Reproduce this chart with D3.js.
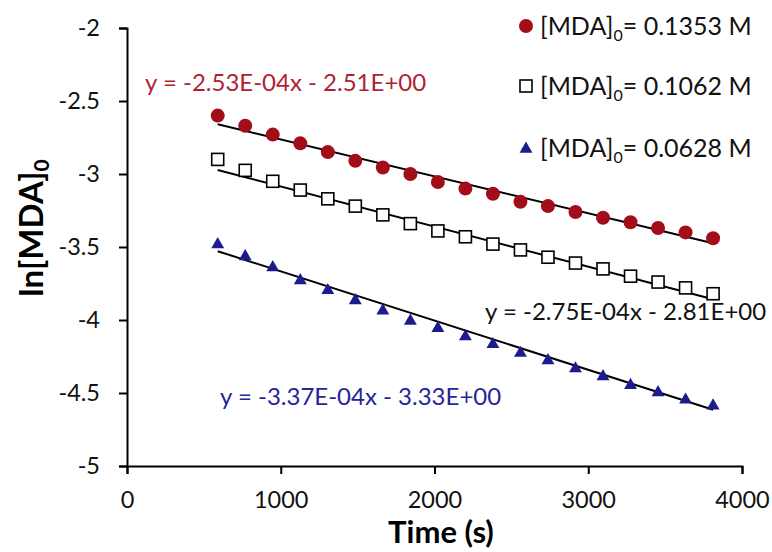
<!DOCTYPE html>
<meta charset="utf-8">
<head>
  <title>ln[MDA] vs time</title>
</head>
<style>
  body {
    margin: 0;
    background: #ffffff;
  }
  text {
    font-family: Lato, "Open Sans", sans-serif;
  }
</style>

<!-- Load d3.js -->
<script src="https://d3js.org/d3.v7.min.js"></script>

<div id="my_dataviz"></div>

<script>
  // data
  var times = [590, 769, 948, 1127, 1306, 1485, 1664, 1843, 2022, 2201, 2380,
    2559, 2738, 2917, 3096, 3275, 3454, 3633, 3812];
  var lnHigh = [-2.60, -2.67, -2.73, -2.79, -2.85, -2.91, -2.955, -3.00, -3.055,
    -3.10, -3.135, -3.19, -3.22, -3.26, -3.30, -3.33, -3.37, -3.40, -3.44];
  var lnMid = [-2.90, -2.975, -3.05, -3.11, -3.17, -3.22, -3.28, -3.34, -3.39,
    -3.43, -3.48, -3.52, -3.57, -3.61, -3.65, -3.70, -3.74, -3.78, -3.82];
  var lnLow = [-3.476, -3.558, -3.633, -3.723, -3.79, -3.86, -3.93, -4.00, -4.05,
    -4.107, -4.16, -4.22, -4.27, -4.326, -4.38, -4.44, -4.49, -4.54, -4.58];
  var concLabels = ["0.1353", "0.1062", "0.0628"];
  var slopes = [-2.53e-4, -2.75e-4, -3.37e-4];
  var intercepts = [-2.51, -2.81, -3.33];
  var fitLabels = ["y = -2.53E-04x - 2.51E+00", "y = -2.75E-04x - 2.81E+00",
    "y = -3.37E-04x - 3.33E+00"];
  var xTicks = [0, 1000, 2000, 3000, 4000];
  var yTicks = [-2, -2.5, -3, -3.5, -4, -4.5, -5];

  var width = 772,
    height = 552;

  var svg = d3.select("#my_dataviz")
    .append("svg")
    .attr("width", width)
    .attr("height", height);

  var x = d3.scaleLinear()
    .domain([0, 4000])
    .range([127, 742]);

  var y = d3.scaleLinear()
    .domain([-5, -2])
    .range([466, 28]);

  // Add X axis
  var xAxis = svg.append("g")
    .attr("transform", "translate(0," + y(-5) + ")")
    .call(d3.axisBottom(x).tickValues(xTicks).tickSize(8).tickPadding(17)
      .tickFormat(function(d) { return String(d); }));

  // Add Y axis
  var yAxis = svg.append("g")
    .attr("transform", "translate(" + x(0) + ",0)")
    .call(d3.axisLeft(y).tickValues(yTicks).tickSize(8).tickPadding(19)
      .tickFormat(function(d) { return String(d); }));

  [xAxis, yAxis].forEach(function(g) {
    g.select(".domain").attr("stroke", "#000").attr("stroke-width", 2);
    g.selectAll(".tick line").attr("stroke", "#000").attr("stroke-width", 2);
    g.selectAll(".tick text")
      .attr("fill", "#111")
      .style("font-size", "23.5px")
      .style("font-family", "Lato, 'Open Sans', sans-serif");
  });

  // text label for the x axis
  svg.append("text")
    .attr("x", 441)
    .attr("y", 543)
    .style("text-anchor", "middle")
    .style("font-size", "31px")
    .style("font-weight", "bold")
    .attr("fill", "#000")
    .text("Time (s)");

  // text label for the y axis
  var yTitle = svg.append("text")
    .attr("transform", "translate(43,228) rotate(-90)")
    .style("text-anchor", "middle")
    .style("font-size", "33px")
    .style("font-weight", "bold")
    .attr("fill", "#000");
  yTitle.append("tspan").text("ln[MDA]");
  yTitle.append("tspan").attr("dy", 6).style("font-size", "21px").text("0");

  var series = [lnHigh, lnMid, lnLow];
  var markFill = ["#a20d1a", "#ffffff", "#1c1c8e"];
  var textFill = ["#b11f33", "#111111", "#26269a"];
  var fitPos = [[145, 91], [485, 320], [220, 405]];

  // trend lines over the data range
  series.forEach(function(s, i) {
    var t0 = times[0],
      t1 = times[times.length - 1];
    svg.append("line")
      .attr("x1", x(t0))
      .attr("y1", y(slopes[i] * t0 + intercepts[i]))
      .attr("x2", x(t1))
      .attr("y2", y(slopes[i] * t1 + intercepts[i]))
      .attr("stroke", "#000")
      .attr("stroke-width", 2);
  });

  var triangle = d3.symbol().type(d3.symbolTriangle).size(72);

  function drawMark(g, i, cx, cy) {
    if (i == 0) {
      g.append("circle")
        .attr("cx", cx)
        .attr("cy", cy)
        .attr("r", 7)
        .attr("fill", markFill[0]);
    } else if (i == 1) {
      g.append("rect")
        .attr("x", cx - 6)
        .attr("y", cy - 6)
        .attr("width", 12)
        .attr("height", 12)
        .attr("fill", "#fff")
        .attr("stroke", "#000")
        .attr("stroke-width", 1.6);
    } else {
      g.append("path")
        .attr("d", triangle)
        .attr("transform", "translate(" + cx + "," + (cy + 1) + ")")
        .attr("fill", markFill[2]);
    }
  }

  // Add dots
  series.forEach(function(s, i) {
    var g = svg.append("g");
    s.forEach(function(v, j) {
      drawMark(g, i, x(times[j]), y(v));
    });
  });

  // fit equations
  fitLabels.forEach(function(lab, i) {
    svg.append("text")
      .attr("x", fitPos[i][0])
      .attr("y", fitPos[i][1])
      .style("font-size", "24px")
      .attr("fill", textFill[i])
      .text(lab);
  });

  // legend
  var legendRows = [35, 95, 157];
  concLabels.forEach(function(c, i) {
    var g = svg.append("g");
    drawMark(g, i, 526, legendRows[i] - 9);
    var t = g.append("text")
      .attr("x", 540)
      .attr("y", legendRows[i])
      .style("font-size", "25px")
      .attr("fill", "#111");
    t.append("tspan").text("[MDA]");
    t.append("tspan").attr("dy", 6).style("font-size", "16px").text("0");
    t.append("tspan").attr("dy", -6).text("= " + c + " M");
  });
</script>
